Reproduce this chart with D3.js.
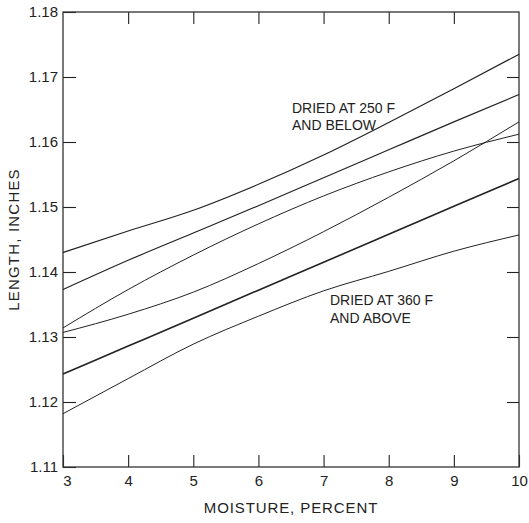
<!DOCTYPE html>
<html>
<head>
<meta charset="utf-8">
<script src="https://cdn.jsdelivr.net/npm/d3@7"></script>
<style>
  body { margin: 0; background: #fff; }
  svg { display: block; }
</style>
</head>
<body>
<div id="chart"></div>
<script>
// moisture (percent) at which each curve was read
var moisture = [3, 4, 5, 6, 7, 8, 9, 10];

// length, inches - one list per curve, top to bottom at the left edge
var curve1 = [1.1430, 1.1463, 1.1495, 1.1535, 1.1580, 1.1630, 1.1682, 1.1735];
var curve2 = [1.1373, 1.1418, 1.1460, 1.1502, 1.1545, 1.1588, 1.1631, 1.1673];
var curve3 = [1.1314, 1.1373, 1.1426, 1.1474, 1.1517, 1.1554, 1.1586, 1.1612];
var curve4 = [1.1307, 1.1335, 1.1369, 1.1413, 1.1462, 1.1515, 1.1571, 1.1631];
var curve5 = [1.1243, 1.1286, 1.1329, 1.1372, 1.1415, 1.1458, 1.1501, 1.1544];
var curve6 = [1.1182, 1.1236, 1.1289, 1.1332, 1.1371, 1.1401, 1.1432, 1.1457];

var xTicks = [3, 4, 5, 6, 7, 8, 9, 10];
var yTicks = [1.11, 1.12, 1.13, 1.14, 1.15, 1.16, 1.17, 1.18];

var curves = [curve1, curve2, curve3, curve4, curve5, curve6];
var widths = [1.2, 1.2, 1.0, 1.0, 1.6, 1.0];

var w = 529, h = 523;
// plot box edges (note: "top" is reserved on window, so prefix them)
var pLeft = 63, pRight = 519, pTop = 12, pBottom = 467;
var ink = "#222";

var svg = d3.select("#chart").append("svg")
    .attr("width", w)
    .attr("height", h);

var x = d3.scaleLinear().domain([3, 10]).range([pLeft, pRight]);
var y = d3.scaleLinear().domain([1.11, 1.18]).range([pBottom, pTop]);

// left axis with labels, ticks pointing in
var yAxis = svg.append("g")
    .attr("transform", "translate(" + pLeft + ",0)")
    .call(d3.axisLeft(y).tickValues(yTicks).tickFormat(d3.format(".2f"))
      .tickSize(-13).tickSizeOuter(0).tickPadding(5));
yAxis.select(".domain").remove();
yAxis.selectAll("line").attr("stroke", ink).attr("stroke-width", 1.1);
yAxis.selectAll("text")
    .attr("fill", ink)
    .attr("font-family", "'Liberation Sans Narrow', 'Liberation Sans', sans-serif")
    .attr("font-size", 15);

// bottom axis
var xAxis = svg.append("g")
    .attr("transform", "translate(0," + pBottom + ")")
    .call(d3.axisBottom(x).tickValues(xTicks).tickFormat(d3.format("d"))
      .tickSize(-12).tickSizeOuter(0).tickPadding(8));
xAxis.select(".domain").remove();
xAxis.selectAll("line").attr("stroke", ink).attr("stroke-width", 1.1);
xAxis.selectAll("text")
    .attr("fill", ink)
    .attr("font-family", "'Liberation Sans', sans-serif")
    .attr("font-size", 15)
    .attr("dx", function(d) { return d === 3 ? 4 : 0; });

// top and right: ticks only
var topAxis = svg.append("g")
    .attr("transform", "translate(0," + pTop + ")")
    .call(d3.axisTop(x).tickValues(xTicks.slice(1, -1)).tickFormat("")
      .tickSize(-12).tickSizeOuter(0));
topAxis.select(".domain").remove();
topAxis.selectAll("line").attr("stroke", ink).attr("stroke-width", 1.1);

var rightAxis = svg.append("g")
    .attr("transform", "translate(" + pRight + ",0)")
    .call(d3.axisRight(y).tickValues(yTicks.slice(1, -1)).tickFormat("")
      .tickSize(-12).tickSizeOuter(0));
rightAxis.select(".domain").remove();
rightAxis.selectAll("line").attr("stroke", ink).attr("stroke-width", 1.1);

// frame
svg.append("rect")
    .attr("x", pLeft)
    .attr("y", pTop)
    .attr("width", pRight - pLeft)
    .attr("height", pBottom - pTop)
    .attr("fill", "none")
    .attr("stroke", "#333")
    .attr("stroke-width", 1.3);

// curves
var line = d3.line()
    .x(function(d, i) { return x(moisture[i]); })
    .y(function(d) { return y(d); })
    .curve(d3.curveMonotoneX);

svg.selectAll("path.curve")
    .data(curves)
    .enter()
    .append("path")
    .attr("class", "curve")
    .attr("d", line)
    .attr("fill", "none")
    .attr("stroke", ink)
    .attr("stroke-width", function(d, i) { return widths[i]; });

// annotations
var note = svg.append("g")
    .attr("font-family", "'Liberation Sans', sans-serif")
    .attr("font-size", 14)
    .attr("fill", ink);
note.append("text").attr("x", 292).attr("y", 113).text("DRIED AT 250 F");
note.append("text").attr("x", 292).attr("y", 130).text("AND BELOW");
note.append("text").attr("x", 330).attr("y", 305).text("DRIED AT 360 F");
note.append("text").attr("x", 330).attr("y", 323).text("AND ABOVE");

// axis titles
svg.append("text")
    .attr("x", (pLeft + pRight) / 2)
    .attr("y", 513)
    .attr("text-anchor", "middle")
    .attr("font-family", "'Liberation Sans', sans-serif")
    .attr("font-size", 15)
    .attr("letter-spacing", 0.9)
    .attr("fill", ink)
    .text("MOISTURE,  PERCENT");

svg.append("text")
    .attr("transform", "translate(19," + ((pTop + pBottom) / 2) + ") rotate(-90)")
    .attr("text-anchor", "middle")
    .attr("font-family", "'Liberation Sans', sans-serif")
    .attr("font-size", 15)
    .attr("letter-spacing", 1.2)
    .attr("fill", ink)
    .text("LENGTH, INCHES");
</script>
</body>
</html>
